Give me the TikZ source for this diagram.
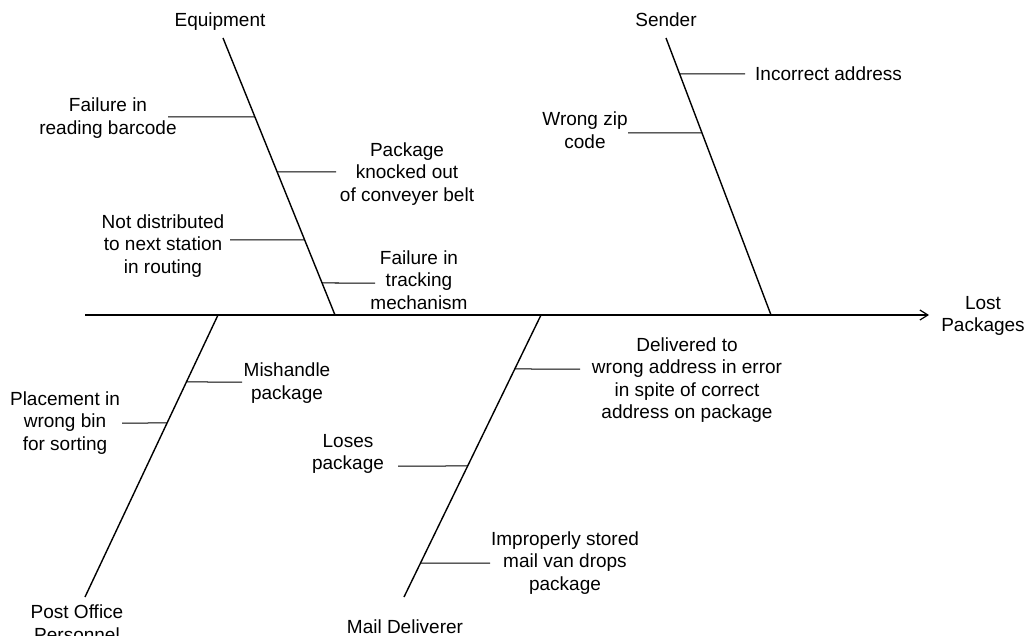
\documentclass[tikz,border=0pt]{standalone}
\usepackage{fontspec}
\setmainfont{Liberation Sans}
\usetikzlibrary{calc,arrows.meta}
\begin{document}
\begin{tikzpicture}[x=1pt,y=-1pt,
  bone/.style={line width=1.4pt},
  sub/.style={line width=1pt},
  lbl/.style={font=\fontsize{19}{22.5}\selectfont, align=center, inner sep=0pt},
  spinearrow/.style={line width=1.4pt, -{Straight Barb[length=8pt,width=10pt,line width=1.2pt]}}]
\useasboundingbox (0,0) rectangle (1030,636);
% spine
\coordinate (S0) at (85,315);
\coordinate (S1) at (929,315);
\draw[spinearrow] (S0) -- (S1);
\node[lbl] (lost) at (983,316) {Lost\\Packages};
% bones
\coordinate (E0) at (223,38);  \coordinate (E1) at (335,315);
\coordinate (D0) at (666,38);  \coordinate (D1) at (771,315);
\coordinate (P0) at (218,315); \coordinate (P1) at (85,597);
\coordinate (M0) at (541,315); \coordinate (M1) at (404,597);
\draw[bone] (E0) -- (E1);
\draw[bone] (D0) -- (D1);
\draw[bone] (P0) -- (P1);
\draw[bone] (M0) -- (M1);
% category labels
\node[lbl] (equip) at (220,22) {Equipment};
\node[lbl] (sender) at (666,20) {Sender};
\node[lbl, anchor=north] (post) at (77,605) {Post Office\\Personnel};
\node[lbl] (mail) at (405,627) {Mail Deliverer};
% Equipment causes
\coordinate (e1) at ($(E0)!{79/277}!(E1)$);
\coordinate (e1t) at (168,117);
\draw[sub] (e1) -- (e1t);
\node[lbl] (c1) at (108,118) {Failure in\\reading barcode};
\coordinate (e2) at ($(E0)!{134/277}!(E1)$);
\coordinate (e2t) at (336,172);
\draw[sub] (e2) -- (e2t);
\node[lbl] (c2) at (407,174) {Package\\knocked out\\of conveyer belt};
\coordinate (e3) at ($(E0)!{202/277}!(E1)$);
\coordinate (e3t) at (230,240);
\draw[sub] (e3) -- (e3t);
\node[lbl] (c3) at (163,246) {Not distributed\\to next station\\in routing};
\coordinate (e4) at ($(E0)!{245/277}!(E1)$);
\coordinate (e4t) at (375,283);
\draw[sub] (e4) -- (e4t);
\node[lbl] (c4) at (419,280) {Failure in\\tracking\\mechanism};
% Sender causes
\coordinate (d1) at ($(D0)!{36/277}!(D1)$);
\draw[sub] (d1) -- (745,74) coordinate (d1t);
\node[lbl, anchor=west] (c5) at (755,74) {Incorrect address};
\coordinate (d2) at ($(D0)!{95/277}!(D1)$);
\draw[sub] (d2) -- (628,133) coordinate (d2t);
\node[lbl] (c6) at (585,130) {Wrong zip\\code};
% Post office causes
\coordinate (p1) at ($(P0)!{67/282}!(P1)$);
\draw[sub] (p1) -- (242,382) coordinate (p1t);
\node[lbl] (c7) at (287,383) {Mishandle\\package};
\coordinate (p2) at ($(P0)!{108/282}!(P1)$);
\draw[sub] (p2) -- (122,423) coordinate (p2t);
\node[lbl] (c8) at (65,423) {Placement in\\wrong bin\\for sorting};
% Mail deliverer causes
\coordinate (m1) at ($(M0)!{54/282}!(M1)$);
\draw[sub] (m1) -- (580,369) coordinate (m1t);
\node[lbl] (c9) at (687,380) {Delivered to\\wrong address in error\\in spite of correct\\address on package};
\coordinate (m2) at ($(M0)!{151/282}!(M1)$);
\draw[sub] (m2) -- (398,466) coordinate (m2t);
\node[lbl] (c10) at (348,454) {Loses\\package};
\coordinate (m3) at ($(M0)!{248/282}!(M1)$);
\draw[sub] (m3) -- (490,563) coordinate (m3t);
\node[lbl] (c11) at (565,563) {Improperly stored\\mail van drops\\package};
\end{tikzpicture}
\end{document}
